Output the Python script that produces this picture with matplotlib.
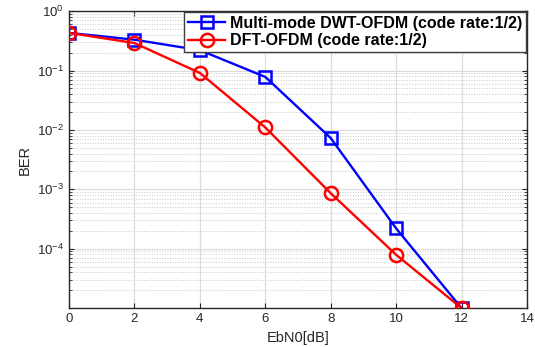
import matplotlib
matplotlib.use("Agg")
import matplotlib.pyplot as plt
from matplotlib.ticker import LogLocator, NullFormatter

ebn0 = [0, 2, 4, 6, 8, 10, 12]
ber_dwt = [0.43, 0.33, 0.22, 0.078, 0.0073, 2.2e-4, 1.0e-5]
ber_dft = [0.43, 0.29, 0.091, 0.011, 8.6e-4, 7.9e-5, 1.0e-5]
xticks = [0, 2, 4, 6, 8, 10, 12, 14]
label_dwt = "Multi-mode DWT-OFDM (code rate:1/2)"
label_dft = "DFT-OFDM (code rate:1/2)"

plt.rcParams['font.family'] = ['Liberation Sans', 'DejaVu Sans']
fig = plt.figure(figsize=(5.35, 3.47), dpi=100)
ax = fig.add_axes([0.129, 0.112, 0.856, 0.856])

ax.semilogy(ebn0, ber_dwt, '-s', color='#0000ff', lw=1.7, ms=8, mfc='none', mew=1.8, label=label_dwt, zorder=3)
ax.semilogy(ebn0, ber_dft, '-o', color='#ff0000', lw=1.7, ms=9.5, mfc='none', mew=1.8, label=label_dft, zorder=3)

ax.set_xlim(0, 14)
ax.set_ylim(1e-5, 1)
ax.set_xticks(xticks)
ax.yaxis.set_major_locator(LogLocator(base=10, numticks=10))
ax.yaxis.set_minor_locator(LogLocator(base=10, subs=range(2, 10), numticks=10))
ax.yaxis.set_minor_formatter(NullFormatter())
ax.set_yticks([1e-4, 1e-3, 1e-2, 1e-1, 1e0])

ax.grid(True, which='major', color='#dcdcdc', lw=0.9, ls='-')
ax.grid(True, which='minor', axis='y', color='#c8c8c8', lw=0.7, ls=':')
ax.tick_params(which='both', direction='in', top=True, right=True, labelsize=9.5, colors='#262626')
ax.tick_params(which='minor', length=2)
for s in ax.spines.values():
    s.set_color('#262626')
    s.set_linewidth(1.0)

ax.set_xlabel('EbN0[dB]', fontsize=10.5, color='#262626')
ax.set_ylabel('BER', fontsize=10.5, color='#262626')

leg = ax.legend(loc='upper right', prop={'weight': 'bold', 'size': 11.5}, fancybox=False,
                framealpha=1, edgecolor='#404040', borderpad=0.25, labelspacing=0.15,
                handlelength=2.3, handletextpad=0.3, borderaxespad=0.05)
leg.get_frame().set_linewidth(1.0)

fig.savefig('out.png', dpi=100)
